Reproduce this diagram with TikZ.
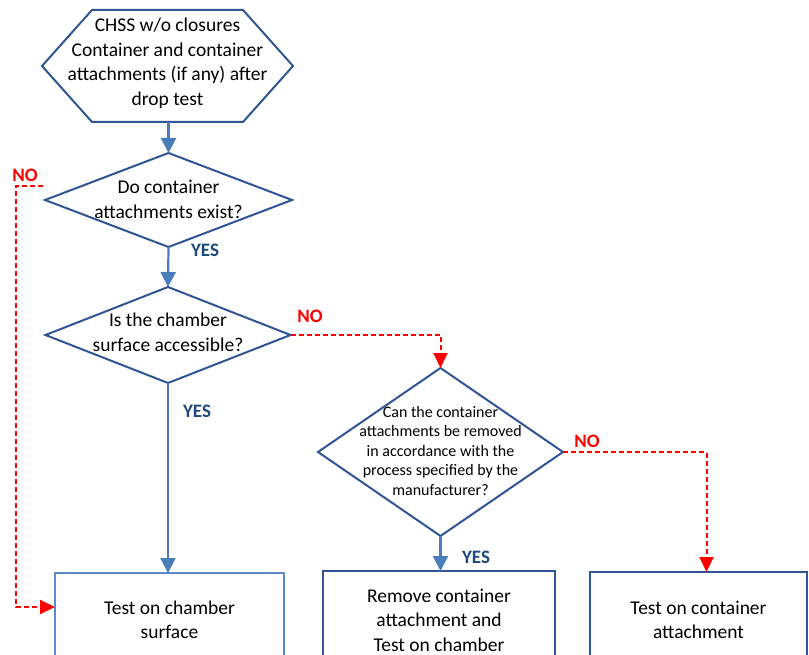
\documentclass[tikz,border=0pt]{standalone}
\usepackage{fontspec}
\setmainfont{Carlito}
\usetikzlibrary{shapes.geometric,arrows.meta,calc}
\definecolor{shapeblue}{HTML}{2F5597}
\definecolor{boxlight}{HTML}{5B8BC9}
\definecolor{linkblue}{HTML}{4A7EBB}
\definecolor{yesblue}{HTML}{1F497D}
\definecolor{nored}{HTML}{FF0000}
\begin{document}
\begin{tikzpicture}[x=1pt,y=-1pt,
  maintext/.style={font=\fontsize{19.5}{24.5}\selectfont, align=center, text=black, inner sep=0pt},
  smalltext/.style={font=\fontsize{16}{19.5}\selectfont, align=center, text=black, inner sep=0pt},
  dia/.style={diamond, draw=shapeblue, line width=2pt, inner sep=0pt, outer sep=0pt},
  boxnode/.style={rectangle, draw=shapeblue, line width=2pt, inner sep=0pt, outer sep=0pt},
  link/.style={draw=linkblue, line width=2.2pt, -{Triangle[length=15pt,width=15pt]}},
  nolink/.style={draw=nored, line width=2pt, dash pattern=on 5pt off 3pt, -{Triangle[length=15pt,width=14pt]}},
  yeslab/.style={font=\fontsize{19}{22}\selectfont\bfseries, text=yesblue, inner sep=0pt},
  nolab/.style={font=\fontsize{19}{22}\selectfont\bfseries, text=nored, inner sep=0pt}]
\useasboundingbox (0,0) rectangle (809,655);
\clip (0,0) rectangle (809,655);

% start hexagon
\node (hex) [rectangle, minimum width=251pt, minimum height=112pt, inner sep=0pt, outer sep=0pt] at (167.5,66) {};
\draw[shapeblue, line width=2pt, line join=miter]
  (hex.west) -- ($(hex.north west)+(50,0)$) -- ($(hex.north east)+(-50,0)$) -- (hex.east)
  -- ($(hex.south east)+(-50,0)$) -- ($(hex.south west)+(50,0)$) -- cycle;
\node (hext) [maintext] at (167.5,63.5) {CHSS w/o closures\\Container and container\\attachments (if any) after\\drop test};

% decisions
\node (d1) [dia, minimum width=247pt, minimum height=94pt] at (168.5,200) {};
\node (d1t) [maintext] at (168.5,199.5) {Do container\\attachments exist?};

\node (d2) [dia, minimum width=245pt, minimum height=96pt] at (168,335) {};
\node (d2t) [maintext] at (168,332.5) {Is the chamber\\surface accessible?};

\node (d3) [dia, minimum width=245pt, minimum height=168pt] at (440.5,452) {};
\node (d3t) [smalltext] at (440.5,451) {Can the container\\attachments be removed\\in accordance with the\\process specified by the\\manufacturer?};

% result boxes
\node (b1) [boxnode, draw=boxlight, minimum width=229pt, minimum height=127pt] at (169.5,636.5) {};
\node (b1t) [maintext] at (169.5,620) {Test on chamber\\surface};

\node (b2) [boxnode, minimum width=232pt, minimum height=129pt] at (439,635.5) {};
\node (b2t) [maintext] at (439,620) {Remove container\\attachment and\\Test on chamber};

\node (b3) [boxnode, minimum width=217pt, minimum height=128pt] at (698.5,636) {};
\node (b3t) [maintext] at (698.5,620) {Test on container\\attachment};

% connectors
\draw[link] (d1.north |- hex.south) -- (d1.north);
\draw[link] (d1.south) -- (d2.north);
\draw[link] (d2.south) -- (d2.south |- b1.north);
\draw[link] (d3.south) -- (d3.south |- b2.north);

\coordinate (n1start) at ($(d1.west)+(-2,-14)$);
\draw[nolink] (n1start) -- ++(-27,0) |- ($(b1.north west)+(0,34)$);
\draw[nolink] (d2.east) -| (d3.north);
\draw[nolink] (d3.east) -| ([xshift=8pt]b3.north);

% labels
\node (no1) [nolab] at (25,175) {NO};
\node (yes1) [yeslab] at (205,250) {YES};
\node (no2) [nolab] at (310,316) {NO};
\node (yes2) [yeslab] at (197,411) {YES};
\node (no3) [nolab] at (587,441) {NO};
\node (yes3) [yeslab] at (476,557) {YES};
\end{tikzpicture}
\end{document}
